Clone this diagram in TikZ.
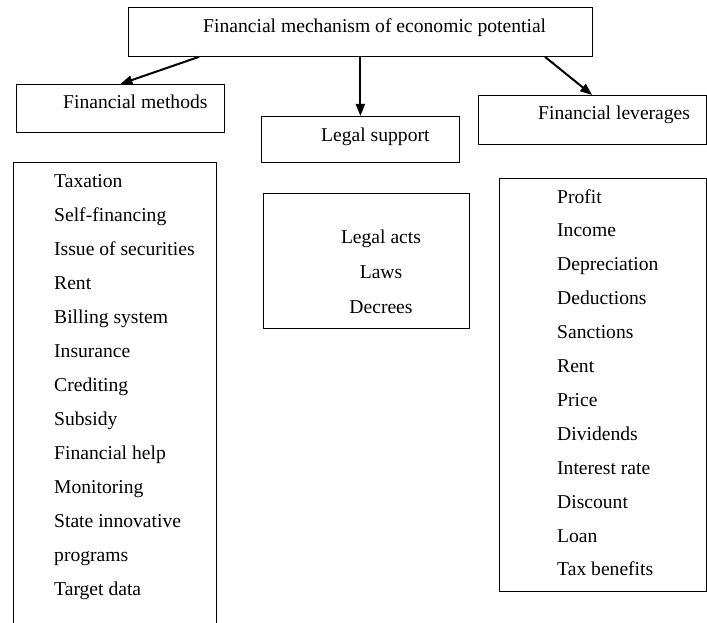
\documentclass[tikz,border=0pt]{standalone}
\usepackage{fontspec}
\setmainfont{Liberation Serif}
\usetikzlibrary{arrows.meta,calc}
\begin{document}
\begin{tikzpicture}[x=1pt, y=-1pt, font=\fontsize{19.6}{23}\selectfont]
    \tikzstyle{box}=[draw, line width=0.8pt, inner sep=0, anchor=north west]
    \tikzstyle{txt}=[inner sep=0, anchor=base west]
    \tikzstyle{arrow}=[line width=2pt, -{Triangle[length=12pt, width=9pt]}]
    \clip (0,0) rectangle (707,623);
    % heading boxes
    \node (top) [box, minimum width=464, minimum height=49] at (128,7) {};
    \node (toptext) [txt] at (203,33) {Financial mechanism of economic potential};
    \node (meth) [box, minimum width=208, minimum height=48] at (16,84) {};
    \node (methtext) [txt] at (63,109) {Financial methods};
    \node (legal) [box, minimum width=198, minimum height=46] at (261,116) {};
    \node (legaltext) [txt] at (321,142) {Legal support};
    \node (lev) [box, minimum width=227.5, minimum height=49] at (478,95) {};
    \node (levtext) [txt] at (538,120) {Financial leverages};
    % lists
    \node (methlist) [box, minimum width=203, minimum height=480] at (13,162) {};
    \foreach \entry [count=\i from 0] in {Taxation, Self-financing, Issue of securities, Rent, Billing system, Insurance, Crediting, Subsidy, Financial help, Monitoring, State innovative, programs, Target data}
        \node (meth\i) [txt] at (54,187+34*\i) {\entry};
    \node (acts) [box, minimum width=206, minimum height=135] at (263,193) {};
    \foreach \entry [count=\i from 0] in {Legal acts, Laws, Decrees}
        \node (acts\i) [inner sep=0, anchor=base] at (381,243+35*\i) {\entry};
    \node (levlist) [box, minimum width=206.5, minimum height=413] at (499,178) {};
    \foreach \entry [count=\i from 0] in {Profit, Income, Depreciation, Deductions, Sanctions, Rent, Price, Dividends, Interest rate, Discount, Loan, Tax benefits}
        \node (lev\i) [txt] at (557,203+33.9*\i) {\entry};
    % arrows
    \draw [arrow] ($(top.south west)!0.153!(top.south east)$) -- (meth.north);
    \draw [arrow] (top.south) -- (legal.north);
    \draw [arrow] ($(top.south west)!0.897!(top.south east)$) -- (lev.north);
\end{tikzpicture}
\end{document}
